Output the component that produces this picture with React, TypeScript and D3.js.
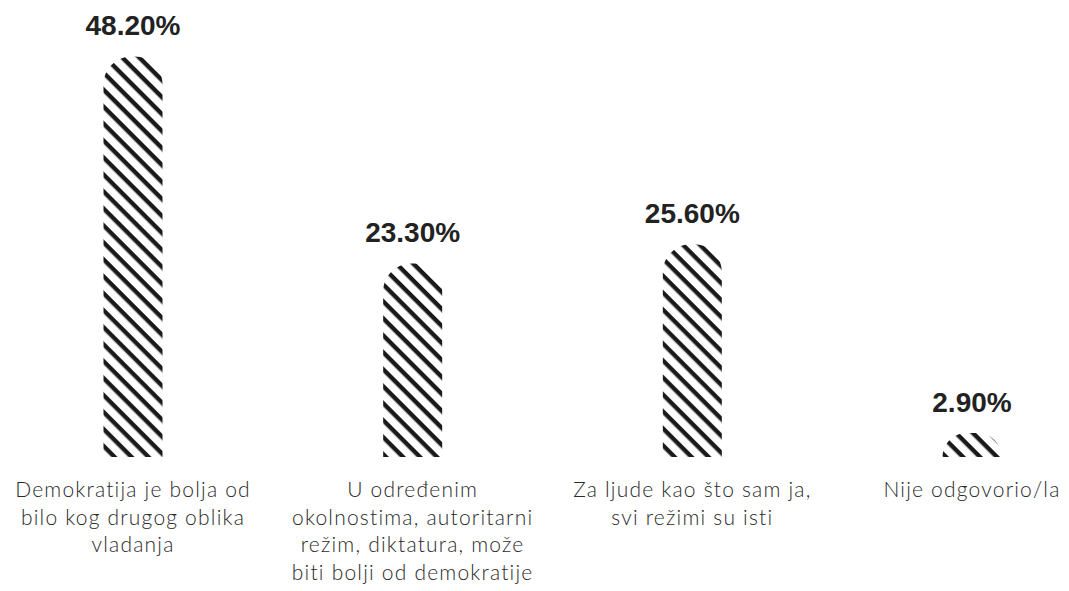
import React from "react";
import * as d3 from "d3";

const categories: string[][] = [
  ["Demokratija je bolja od", "bilo kog drugog oblika", "vladanja"],
  ["U određenim", "okolnostima, autoritarni", "režim, diktatura, može", "biti bolji od demokratije"],
  ["Za ljude kao što sam ja,", "svi režimi su isti"],
  ["Nije odgovorio/la"],
];
const values: number[] = [48.2, 23.3, 25.6, 2.9];
const valueLabels: string[] = ["48.20%", "23.30%", "25.60%", "2.90%"];

const W = 1069;
const H = 591;
const barW = 59;
const r = 28;

function topRoundedBar(x: number, y: number, w: number, h: number, rad: number) {
  const rr = Math.min(rad, w / 2, h);
  const k = 0.5523 * rr;
  const p = d3.path();
  p.moveTo(x, y + h);
  p.lineTo(x, y + rr);
  p.bezierCurveTo(x, y + rr - k, x + rr - k, y, x + rr, y);
  p.lineTo(x + w - rr, y);
  p.bezierCurveTo(x + w - rr + k, y, x + w, y + rr - k, x + w, y + rr);
  p.lineTo(x + w, y + h);
  p.closePath();
  return p.toString();
}

export default function App() {
  const idx = values.map((_, i) => i);
  const x = d3.scalePoint<number>().domain(idx).range([133, 972]);
  const y = d3.scaleLinear().domain([0, 50]).range([457, 41.5]);

  return (
    <svg width={W} height={H} style={{ position: "absolute", left: 0, top: 0, display: "block" }}>
      <defs>
        <pattern
          id="stripes"
          patternUnits="userSpaceOnUse"
          width={12}
          height={12}
          patternTransform="rotate(45)"
        >
          <rect x={0} y={0} width={12} height={12} fill="#fff" />
          <rect x={0} y={0} width={12} height={4.4} fill="#1a1a1a" />
        </pattern>
      </defs>
      <rect width={W} height={H} fill="#fff" />
      {idx.map((i) => {
        const cx = x(i) as number;
        const top = y(values[i]);
        const h = y(0) - top;
        return (
          <g key={i}>
            <path d={topRoundedBar(cx - barW / 2, top, barW, h, r)} fill="url(#stripes)" />
            <text
              x={cx}
              y={top - 21}
              textAnchor="middle"
              fontFamily="'Liberation Sans', Arial, sans-serif"
              fontWeight={700}
              fontSize={28}
              fill="#222"
            >
              {valueLabels[i]}
            </text>
            <text
              x={cx}
              y={497}
              textAnchor="middle"
              fontFamily="Lato, 'Open Sans', sans-serif"
              fontWeight={300}
              fontSize={21}
              letterSpacing={1.2}
              fill="#2a2a2a"
            >
              {categories[i].map((line, j) => (
                <tspan key={j} x={cx} dy={j === 0 ? 0 : 27.5}>
                  {line}
                </tspan>
              ))}
            </text>
          </g>
        );
      })}
    </svg>
  );
}
